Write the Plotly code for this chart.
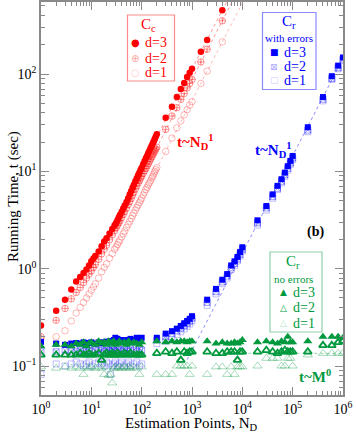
import plotly.graph_objects as go

# ---------------- data ----------------
N_cc = [1, 2, 3, 4, 5, 6, 7, 8, 9, 10, 11, 12, 14, 16, 18, 20, 23, 26, 29, 31, 33, 35, 37,
        40, 43, 46, 50, 54, 58, 62, 66, 70, 75, 80, 85, 90, 95, 100,
        107, 114, 121, 128, 135, 142, 150, 158, 166, 174, 182, 191, 200,
        300, 400, 500, 600, 700, 800, 900, 1000, 1500, 2000, 4000]

t_cc_d3 = [0.26, 0.37, 0.48, 0.61, 0.74, 0.82, 0.90, 0.98, 1.08, 1.19, 1.27, 1.35,
           1.5, 1.7, 1.9, 2.05, 2.3, 2.55, 2.8, 2.95, 3.15, 3.35, 3.55,
           3.85, 4.15, 4.45, 4.85, 5.3, 5.8, 6.3, 6.8, 7.3, 7.9, 8.5, 9.1, 9.7, 10.3, 10.9,
           11.8, 12.7, 13.6, 14.4, 15.3, 16.2, 17.3, 18.3, 19.3, 20.4, 21.5, 22.8, 24.0,
           35.5, 46, 58, 70, 81, 93, 103, 113, 169, 223, 453]

t_cc_d2 = [0.20, 0.295, 0.39, 0.49, 0.57, 0.64, 0.72, 0.80, 0.88, 0.95, 1.03, 1.10,
           1.25, 1.42, 1.58, 1.74, 1.98, 2.22, 2.46, 2.62, 2.78, 2.95, 3.1,
           3.35, 3.6, 3.85, 4.2, 4.55, 4.9, 5.3, 5.7, 6.1, 6.6, 7.1, 7.6, 8.0, 8.5, 8.9,
           9.5, 10.1, 10.7, 11.3, 11.9, 12.6, 13.3, 14.0, 14.7, 15.4, 16.1, 16.9, 17.7,
           27, 37, 45, 55, 63, 72, 80, 88, 133, 180, 352]

t_cc_d1 = [0.19, 0.20, 0.23, 0.29, 0.35, 0.40, 0.45, 0.50, 0.55, 0.60, 0.65, 0.70,
           0.80, 0.93, 1.03, 1.12, 1.28, 1.43, 1.58, 1.67, 1.77, 1.87, 1.97,
           2.12, 2.28, 2.43, 2.65, 2.85, 3.06, 3.28, 3.5, 3.72, 4.0, 4.25, 4.5, 4.78, 5.05, 5.3,
           5.7, 6.1, 6.5, 6.85, 7.25, 7.6, 8.0, 8.5, 8.9, 9.4, 9.9, 10.4, 10.9,
           16, 22, 28, 33, 38, 43, 48, 52, 80, 107, 214]

N_cr_low = [1, 2, 3, 4, 5, 6, 7, 8, 9, 10, 12, 14, 16, 18, 20, 22, 24, 26, 28, 30,
            33, 36, 40, 45, 50, 55, 60, 70, 80, 90, 100]
N_cr_high = [200, 300, 400, 500, 600, 700, 800, 900, 1000,
             2000, 3000, 4000, 5000, 6000, 7000, 8000, 9000, 10000,
             20000, 30000, 40000, 50000, 60000, 70000, 80000, 90000, 100000,
             200000, 400000, 600000, 800000, 1000000]

# C_r with errors
t_cre_d3_low = [0.177, 0.17, 0.165, 0.17, 0.172, 0.17, 0.175, 0.17, 0.172, 0.175,
                0.17, 0.175, 0.172, 0.175, 0.178, 0.175, 0.18, 0.178, 0.185, 0.195,
                0.19, 0.18, 0.185, 0.184, 0.18, 0.185, 0.19, 0.185, 0.195, 0.19, 0.195]
t_cre_d3_high = [0.195, 0.215, 0.228, 0.242, 0.258, 0.275, 0.29, 0.305, 0.325,
                 0.48, 0.62, 0.77, 0.88, 1.08, 1.19, 1.32, 1.48, 1.66,
                 3.14, 4.4, 5.8, 7.1, 8.3, 9.7, 11.3, 12.8, 14.4,
                 28.4, 58, 95, 122, 148]
t_cre_d2_low = [0.14, 0.14, 0.145, 0.14, 0.14, 0.145, 0.14, 0.15, 0.145, 0.14,
                0.145, 0.15, 0.145, 0.14, 0.15, 0.145, 0.14, 0.15, 0.145, 0.14,
                0.15, 0.145, 0.14, 0.15, 0.145, 0.14, 0.15, 0.145, 0.14, 0.15, 0.145]
t_cre_d2_high = [0.185, 0.2, 0.215, 0.23, 0.245, 0.26, 0.275, 0.29, 0.31,
                 0.45, 0.58, 0.73, 0.84, 1.02, 1.13, 1.25, 1.4, 1.58,
                 2.95, 4.2, 5.5, 6.7, 7.9, 9.2, 10.7, 12.2, 13.7,
                 26.5, 55, 90, 116, 142]
t_cre_d1_low = [0.082, 0.105, 0.1, 0.105, 0.11, 0.105, 0.1, 0.105, 0.11, 0.1,
                0.105, 0.11, 0.105, 0.1, 0.11, 0.105, 0.082, 0.1, 0.105, 0.11,
                0.1, 0.105, 0.11, 0.1, 0.105, 0.11, 0.1, 0.105, 0.11, 0.1, 0.105]
t_cre_d1_high = [0.17, 0.18, 0.2, 0.21, 0.225, 0.24, 0.255, 0.27, 0.29,
                 0.42, 0.55, 0.7, 0.8, 0.98, 1.08, 1.2, 1.35, 1.52,
                 2.8, 4.0, 5.3, 6.5, 7.6, 8.9, 10.3, 11.8, 13.2,
                 25.5, 53, 88, 113, 138]

# C_r no errors
t_crn_d3_low = [0.16, 0.165, 0.165, 0.16, 0.17, 0.165, 0.175, 0.16, 0.17, 0.175,
                0.165, 0.18, 0.17, 0.175, 0.165, 0.18, 0.17, 0.175, 0.18, 0.165,
                0.17, 0.18, 0.17, 0.175, 0.165, 0.18, 0.17, 0.175, 0.17, 0.165, 0.175]
t_crn_d3_high = [0.18, 0.175, 0.18, 0.175, 0.18, 0.18, 0.175, 0.18, 0.18,
                 0.18, 0.17, 0.175, 0.17, 0.17, 0.175, 0.17, 0.175, 0.185,
                 0.175, 0.18, 0.175, 0.17, 0.18, 0.175, 0.2, 0.175, 0.175,
                 0.18, 0.2, 0.2, 0.2, 0.195]
t_crn_d2_low = [0.13, 0.13, 0.13, 0.13, 0.13, 0.135, 0.13, 0.13, 0.135, 0.13,
                0.13, 0.135, 0.115, 0.13, 0.135, 0.13, 0.13, 0.135, 0.13, 0.13,
                0.135, 0.13, 0.13, 0.135, 0.13, 0.13, 0.135, 0.13, 0.13, 0.13, 0.13]
t_crn_d2_high = [0.135, 0.14, 0.135, 0.14, 0.115, 0.14, 0.135, 0.14, 0.14,
                 0.14, 0.135, 0.135, 0.14, 0.14, 0.14, 0.115, 0.14, 0.14,
                 0.14, 0.145, 0.14, 0.135, 0.14, 0.145, 0.14, 0.14, 0.14,
                 0.14, 0.163, 0.163, 0.175, 0.18]
t_crn_d1_low = [0.098, 0.095, 0.098, 0.095, 0.098, 0.095, 0.082, 0.098, 0.095, 0.098,
                0.095, 0.098, 0.095, 0.082, 0.098, 0.08, 0.082, 0.067, 0.095, 0.098,
                0.095, 0.098, 0.095, 0.098, 0.095, 0.098, 0.095, 0.098, 0.095, 0.082, 0.098]
t_crn_d1_high = [0.082, 0.082, 0.082, 0.1, 0.1, 0.1, 0.1, 0.082, 0.1,
                 0.082, 0.098, 0.098, 0.082, 0.098, 0.082, 0.098, 0.098, 0.098,
                 0.1, 0.12, 0.12, 0.12, 0.1, 0.1, 0.12, 0.12, 0.1,
                 0.13, 0.135, 0.135, 0.135, 0.135]

# fitted power laws (prefactors)
fit_cc = {"d3": 0.113, "d2": 0.088, "d1": 0.0535}   # t ~ a * N
fit_cc_N = [150, 20000]
fit_cr_a = 1.45e-4                                   # t ~ a * N
fit_cr_N = [800, 1000000]
fit_m0 = 0.135                                       # t ~ M^0
fit_m0_N = [10000, 1000000]

x_tick_vals = [1, 10, 100, 1000, 10000, 100000, 1000000]
x_tick_text = ["10<sup>0</sup>", "10<sup>1</sup>", "10<sup>2</sup>", "10<sup>3</sup>",
               "10<sup>4</sup>", "10<sup>5</sup>", "10<sup>6</sup>"]
y_tick_vals = [0.1, 1, 10, 100]
y_tick_text = ["10<sup>\u22121</sup>", "10<sup>0</sup>", "10<sup>1</sup>", "10<sup>2</sup>"]

# ---------------- styling ----------------
FONT = "Liberation Serif"
GLYPH = "DejaVu Sans"
AX = "#8a8a8a"
RED, RED2, RED1 = "#ff0000", "rgba(255,0,0,0.42)", "rgba(255,0,0,0.28)"
BLUE, BLUE2, BLUE1 = "#0000ff", "rgba(0,0,255,0.38)", "rgba(0,0,255,0.25)"
GREEN, GREEN1 = "#00993d", "rgba(0,153,61,0.35)"

W, H = 356, 433
L, R, T, B = 41, 13, 2, 38
PW, PH = W - L - R, H - T - B


def px(x):
    return (x - L) / PW


def py(y):
    return (H - B - y) / PH


fig = go.Figure()


def fitline(xs, ys, color):
    fig.add_trace(go.Scatter(x=xs, y=ys, mode="lines", showlegend=False, hoverinfo="skip",
                             line=dict(color=color, width=1, dash="dot")))


def pts(xs, ys, symbol, color, size, lw=1.0):
    fig.add_trace(go.Scatter(x=xs, y=ys, mode="markers", showlegend=False, hoverinfo="skip",
                             marker=dict(symbol=symbol, size=size, color=color,
                                         line=dict(color=color, width=lw))))


# fit lines
for key, col in (("d1", RED1), ("d2", RED2), ("d3", RED2)):
    fitline(fit_cc_N, [fit_cc[key] * n for n in fit_cc_N], col)
fitline(fit_cr_N, [fit_cr_a * n for n in fit_cr_N], "rgba(0,0,255,0.45)")
fitline(fit_m0_N, [fit_m0 for _ in fit_m0_N], "rgba(0,153,61,0.45)")

# C_c
pts(N_cc, t_cc_d1, "circle-open", RED1, 6.5, 1)
pts(N_cc, t_cc_d2, "circle-cross-open", RED2, 6.5, 1)
pts(N_cc, t_cc_d3, "circle", RED, 6.5, 0)

N_cr = N_cr_low + N_cr_high
# C_r with errors
pts(N_cr, t_cre_d1_low + t_cre_d1_high, "square-open", BLUE1, 6, 1)
pts(N_cr, t_cre_d2_low + t_cre_d2_high, "square-x-open", BLUE2, 6, 1)
pts(N_cr, t_cre_d3_low + t_cre_d3_high, "square", BLUE, 6, 0)
# C_r no errors
pts(N_cr, t_crn_d1_low + t_crn_d1_high, "triangle-up-open", GREEN1, 8, 1)
pts(N_cr, t_crn_d2_low + t_crn_d2_high, "triangle-up-open", GREEN, 7, 1.8)
pts(N_cr, t_crn_d3_low + t_crn_d3_high, "triangle-up", GREEN, 8, 0)

x_minor = [m * 10 ** e for e in range(0, 6) for m in range(2, 10)]
y_minor = [m * 10 ** e for e in range(-2, 3) for m in range(2, 10)
           if 0.051 < m * 10 ** e < 540]

axis_common = dict(type="log", showgrid=False, zeroline=False, showline=True,
                   linecolor=AX, linewidth=1.5, mirror="allticks", ticks="inside",
                   ticklen=8, tickwidth=1.2, tickcolor=AX, tickmode="array",
                   tickfont=dict(family=FONT, size=14, color="black"))

fig.update_xaxes(range=[0, 6], tickvals=x_tick_vals, ticktext=x_tick_text,
                 minor=dict(tickmode="array", tickvals=x_minor, ticks="inside",
                            ticklen=4, tickwidth=1, tickcolor=AX, showgrid=False),
                 **axis_common)
fig.update_yaxes(range=[-1.298, 2.740], tickvals=y_tick_vals, ticktext=y_tick_text,
                 minor=dict(tickmode="array", tickvals=y_minor, ticks="inside",
                            ticklen=4, tickwidth=1, tickcolor=AX, showgrid=False),
                 **axis_common)

ann = []


def text(x, y, s, size=15, color="black", weight="normal", family=FONT,
         xanchor="center", angle=0):
    ann.append(dict(x=px(x), y=py(y), xref="paper", yref="paper", text=s, showarrow=False,
                    xanchor=xanchor, yanchor="middle", textangle=angle,
                    font=dict(family=family, size=size, color=color, weight=weight)))


# axis titles
text(13, 197, "Running Time, t (sec)", size=15, angle=-90)
text(191, 424, "Estimation Points, N<sub>D</sub>", size=15)

# in-plot labels
text(195, 142, "t~N<sub>D</sub><sup>1</sup>", size=15, color=RED, weight="bold")
text(273, 150, "t~N<sub>D</sub><sup>1</sup>", size=15, color=BLUE, weight="bold")
text(315, 232, "(b)", size=14, weight="bold")
text(315, 376, "t~M<sup>0</sup>", size=15, color=GREEN, weight="bold")

shapes = []


def box(x0, y0, x1, y1, color):
    shapes.append(dict(type="rect", xref="paper", yref="paper", x0=px(x0), x1=px(x1),
                       y0=py(y1), y1=py(y0), line=dict(color=color, width=1.2),
                       fillcolor="rgba(255,255,255,0)"))


# legend C_c
box(127.5, 15, 174.5, 81, "#ff8a8a")
text(148, 25, "C<sub>c</sub>", size=15, color=RED)
for yy, g, gc, lab in ((43, "\u25cf", RED, "d=3"), (58, "\u2295", RED2, "d=2"),
                       (72, "\u25cb", RED1, "d=1")):
    text(135, yy, g, size=10, color=gc, family=GLYPH)
    text(143, yy, lab, size=14, color=RED, xanchor="left")

# legend C_r with errors
box(262.5, 12.5, 316, 89.5, "#8a8aff")
text(289, 22, "C<sub>r</sub>", size=15, color=BLUE)
text(289, 38, "with errors", size=11, color=BLUE)
for yy, g, gc, lab in ((52, "\u25a0", BLUE, "d=3"), (66.5, "\u22a0", BLUE2, "d=2"),
                       (80.5, "\u25a1", BLUE1, "d=1")):
    text(274, yy, g, size=9, color=gc, family=GLYPH)
    text(282, yy, lab, size=14, color=BLUE, xanchor="left")

# legend C_r no errors
box(270, 252, 322, 332, "#8fd0a8")
text(293, 262, "C<sub>r</sub>", size=15, color=GREEN)
text(293, 279, "no errors", size=11, color=GREEN)
for yy, g, gc, lab, wt in ((292, "\u25b2", GREEN, "d=3", "normal"),
                           (307.5, "\u25b3", GREEN, "d=2", "bold"),
                           (323, "\u25b3", GREEN1, "d=1", "normal")):
    text(283, yy, g, size=9, color=gc, family=GLYPH, weight=wt)
    text(291, yy, lab, size=14, color=GREEN, xanchor="left")

fig.update_layout(width=W, height=H, margin=dict(l=L, r=R, t=T, b=B, autoexpand=False),
                  plot_bgcolor="white", paper_bgcolor="white",
                  font=dict(family=FONT, size=14, color="black"),
                  annotations=ann, shapes=shapes, showlegend=False)

fig.write_html("out.html", config={"displayModeBar": False},
               post_script="document.body.style.margin='0px';"
                           "document.body.style.padding='0px';")
